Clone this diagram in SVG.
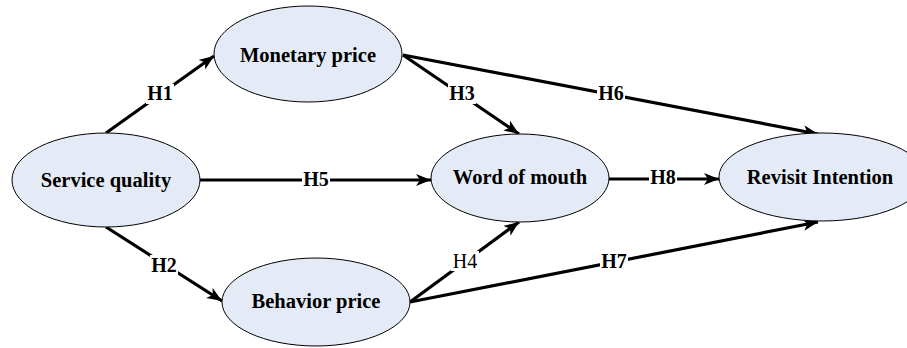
<svg xmlns="http://www.w3.org/2000/svg" width="907" height="348" viewBox="0 0 907 348">
<defs>
<style>
.node ellipse{fill:#e5ebf6;stroke:#000;stroke-width:1}
.node text{font-family:"Liberation Serif","Times New Roman",serif;font-weight:bold;font-size:20.5px;text-anchor:middle;fill:#000}
.edge line{stroke:#000;stroke-width:3.2;marker-end:url(#ah)}
.lbl rect{fill:#fff}
.lbl text{font-family:"Liberation Serif","Times New Roman",serif;font-weight:bold;font-size:20px;text-anchor:middle;fill:#000}
.lbl text.n{font-weight:normal}
</style>
<marker id="ah" markerUnits="userSpaceOnUse" markerWidth="16" markerHeight="14" refX="15" refY="6" orient="auto">
<path d="M0,0 L15,6 L0,12 L4,6 Z" fill="#000"/>
</marker>
</defs>
<rect width="907" height="348" fill="#fff"/>
<g id="connectors">
<g class="edge">
<line x1="106" y1="133" x2="214" y2="56"/>
<line x1="106" y1="227" x2="222" y2="301"/>
<line x1="200" y1="180" x2="431" y2="180"/>
<line x1="403" y1="55" x2="519" y2="134"/>
<line x1="403" y1="55" x2="818" y2="134"/>
<line x1="609" y1="179" x2="719" y2="179"/>
<line x1="410" y1="302" x2="519" y2="222"/>
<line x1="410" y1="302" x2="818" y2="222"/>
</g>
<g class="lbl">
<rect x="146" y="84" width="28" height="20"/><text x="160" y="100">H1</text>
<rect x="150" y="255" width="28" height="20"/><text x="164" y="272">H2</text>
<rect x="302" y="170" width="28" height="20"/><text x="316" y="186">H5</text>
<rect x="448" y="84" width="28" height="20"/><text x="462" y="100">H3</text>
<rect x="597" y="84" width="28" height="20"/><text x="611" y="100">H6</text>
<rect x="649" y="168" width="28" height="20"/><text x="663" y="184">H8</text>
<rect x="451" y="251" width="28" height="20"/><text class="n" x="465" y="268">H4</text>
<rect x="600" y="251" width="28" height="20"/><text x="614" y="268">H7</text>
</g>
</g>
<g id="service-quality" class="node"><ellipse cx="106" cy="180" rx="94" ry="47"/><text x="106" y="187">Service quality</text></g>
<g id="monetary-price" class="node"><ellipse cx="308" cy="54" rx="94" ry="48"/><text x="308" y="62">Monetary price</text></g>
<g id="behavior-price" class="node"><ellipse cx="316" cy="302" rx="94" ry="44"/><text x="316" y="308">Behavior price</text></g>
<g id="word-of-mouth" class="node"><ellipse cx="520" cy="178" rx="89" ry="44"/><text x="520" y="184">Word of mouth</text></g>
<g id="revisit-intention" class="node"><ellipse cx="822" cy="177" rx="103" ry="44"/><text x="820" y="184">Revisit Intention</text></g>
</svg>
